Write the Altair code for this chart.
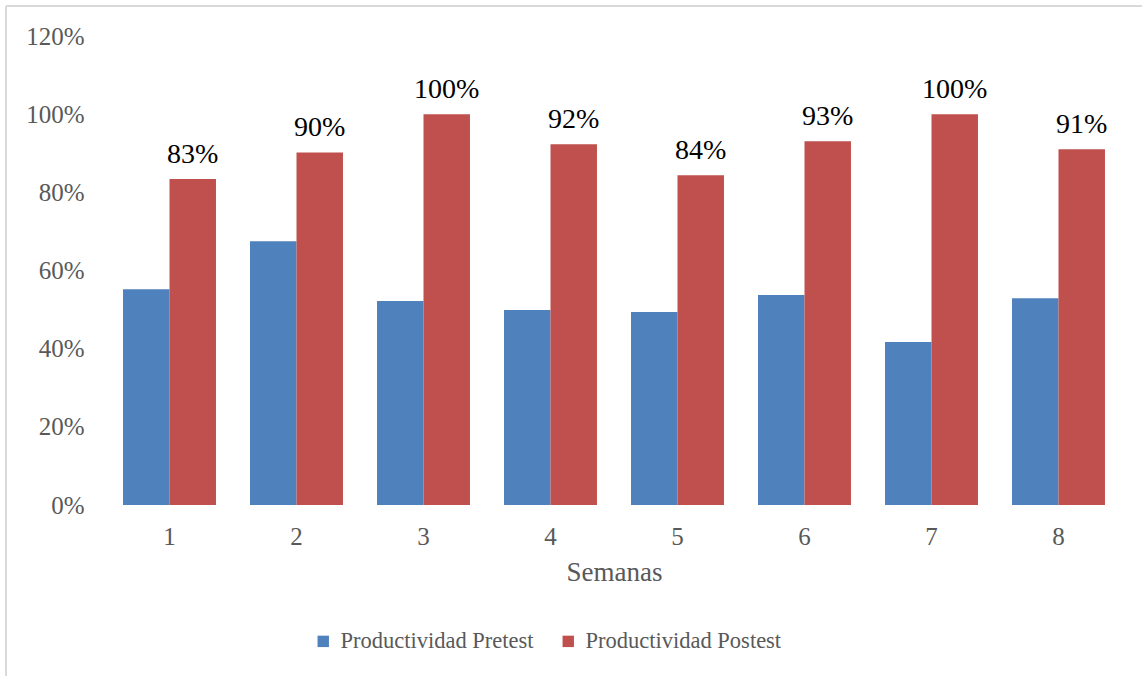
import altair as alt
import pandas as pd

# Weekly productivity before and after the improvement
semanas = ["1", "2", "3", "4", "5", "6", "7", "8"]
pretest = [0.552, 0.675, 0.522, 0.499, 0.494, 0.537, 0.417, 0.529]
postest = [0.834, 0.902, 1.00, 0.923, 0.844, 0.931, 1.00, 0.910]
series = ["Productividad Pretest", "Productividad Postest"]
colors = ["#4F81BD", "#C0504D"]
y_ticks = [0, 0.2, 0.4, 0.6, 0.8, 1.0, 1.2]

rows = []
for s, a, b in zip(semanas, pretest, postest):
    rows.append({"Semana": s, "Serie": series[0], "Valor": a})
    rows.append({"Semana": s, "Serie": series[1], "Valor": b})
df = pd.DataFrame(rows)

FONT = "Liberation Serif"
GRAY = "#595959"

x_enc = alt.X(
    "Semana:N",
    sort=semanas,
    scale=alt.Scale(paddingInner=0.268, paddingOuter=0.134),
    axis=alt.Axis(
        title="Semanas",
        labelAngle=0,
        domain=False,
        ticks=False,
        tickSize=0,
        labelPadding=19,
        labelFont=FONT,
        labelFontSize=25,
        labelColor=GRAY,
        titleFont=FONT,
        titleFontSize=27,
        titleFontWeight="normal",
        titleColor=GRAY,
        titlePadding=10,
    ),
)
xoff_enc = alt.XOffset(
    "Serie:N",
    sort=series,
    scale=alt.Scale(domain=series, paddingInner=0, paddingOuter=0),
)
y_enc = alt.Y(
    "Valor:Q",
    scale=alt.Scale(domain=[0, 1.2], nice=False),
    axis=alt.Axis(
        title=None,
        values=y_ticks,
        format=".0%",
        grid=False,
        domain=False,
        ticks=False,
        tickSize=0,
        labelPadding=22,
        labelFont=FONT,
        labelFontSize=25,
        labelColor=GRAY,
    ),
)

bars = alt.Chart(df).mark_bar().encode(
    x=x_enc,
    xOffset=xoff_enc,
    y=y_enc,
    color=alt.Color(
        "Serie:N",
        sort=series,
        scale=alt.Scale(domain=series, range=colors),
        legend=alt.Legend(
            title=None,
            orient="none",
            direction="horizontal",
            columns=2,
            legendX=206,
            legendY=594,
            padding=0,
            columnPadding=23,
            symbolType="square",
            symbolSize=130,
            symbolStrokeWidth=0,
            symbolOffset=0,
            labelOffset=6,
            labelLimit=0,
            labelFont=FONT,
            labelFontSize=22.5,
            labelColor=GRAY,
        ),
    ),
)

labels = (
    alt.Chart(df)
    .transform_filter(alt.datum.Serie == series[1])
    .mark_text(font=FONT, fontSize=28, color="#000000", baseline="alphabetic", dy=-16)
    .encode(x=x_enc, xOffset=xoff_enc, y=y_enc, text=alt.Text("Valor:Q", format=".0%"))
)

# light chart-area frame
frame_data = alt.Data(values=[{"k": 0}])
frame_top = alt.Chart(frame_data).mark_rule(color="#D9D9D9", strokeWidth=2).encode(
    x=alt.value(-100), x2=alt.value(1100), y=alt.value(-30)
)
frame_left = alt.Chart(frame_data).mark_rule(color="#D9D9D9", strokeWidth=2).encode(
    x=alt.value(-100), y=alt.value(-30), y2=alt.value(700)
)

chart = (
    alt.layer(bars, labels, frame_top, frame_left)
    .properties(
        width=1016,
        height=469,
        autosize=alt.AutoSizeParams(type="none"),
        padding={"left": 106, "top": 36, "right": 20, "bottom": 171},
        background="white",
    )
    .configure_view(stroke=None)
    .configure_text(font=FONT)
)

chart.save("out.html", embed_options={"renderer": "svg", "actions": False})
